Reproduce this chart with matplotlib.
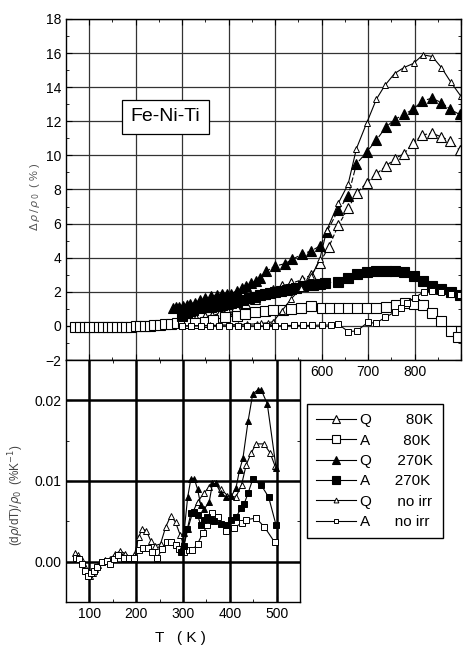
import matplotlib
matplotlib.use("Agg")
import matplotlib.pyplot as plt
from matplotlib.ticker import MultipleLocator
from matplotlib.lines import Line2D

plt.rcParams['font.family'] = ['Liberation Sans', 'DejaVu Sans']
plt.rcParams['mathtext.fontset'] = 'dejavusans'

# ---- top panel: delta rho / rho0 (%) ----
T_q80 = [300, 330, 350, 365, 381, 396, 416, 435, 456, 478, 496, 514, 535, 557, 578, 596, 616,
         636, 657, 676, 697, 717, 738, 757, 777, 797, 817, 837, 857, 877, 897]
q80 = [0.3, 0.4, 0.5, 0.6, 0.74, 0.9, 1.1, 1.35, 1.6, 1.9, 2.1, 2.35, 2.5, 2.7, 3.0, 3.7, 4.65,
       5.9, 6.9, 7.8, 8.4, 8.9, 9.35, 9.8, 10.1, 10.7, 11.2, 11.3, 11.1, 10.85, 10.3]

T_a80 = [70, 80, 90, 100, 110, 120, 130, 140, 150, 160, 170, 180, 190, 200, 210, 220, 230, 240,
         252, 264, 276, 288, 302, 315, 327, 349, 367, 392, 417, 435, 456, 478, 496, 517, 535, 556,
         578, 600, 618, 637, 657, 677, 697, 718, 738, 761, 779, 798, 818, 838, 858, 878, 894]
a80 = [-0.05, -0.05, -0.06, -0.05, -0.05, -0.06, -0.05, -0.05, -0.06, -0.05, -0.05, -0.04, -0.04,
       -0.03, -0.02, 0.0, 0.02, 0.04, 0.06, 0.09, 0.12, 0.15, 0.2, 0.18, 0.16, 0.25, 0.35, 0.51,
       0.59, 0.7, 0.8, 0.9, 0.94, 0.94, 0.98, 1.07, 1.15, 1.04, 1.04, 1.05, 1.05, 1.04, 1.05, 1.05,
       1.1, 1.23, 1.33, 1.27, 1.23, 0.78, 0.29, -0.29, -0.63]

T_q270 = [280, 287, 294, 301, 310, 317, 327, 338, 350, 363, 375, 385, 396, 406, 417, 428, 438,
          449, 458, 467, 481, 499, 521, 537, 557, 578, 597, 611, 636, 657, 675, 697, 718, 738,
          757, 777, 797, 817, 837, 858, 877, 897]
q270 = [1.04, 1.08, 1.12, 1.18, 1.23, 1.3, 1.37, 1.5, 1.62, 1.76, 1.82, 1.86, 1.88, 1.9, 2.05,
        2.2, 2.35, 2.5, 2.65, 2.8, 3.2, 3.5, 3.65, 3.9, 4.2, 4.4, 4.7, 5.5, 6.8, 7.6, 9.5, 10.2,
        10.9, 11.65, 12.1, 12.4, 12.7, 13.2, 13.35, 13.1, 12.7, 12.4]

T_a270 = [300, 310, 317, 324, 338, 350, 363, 375, 385, 396, 406, 418, 431, 443, 456, 467, 478,
          489, 499, 512, 525, 535, 546, 560, 582, 596, 607, 636, 657, 676, 697, 718, 738, 757,
          777, 799, 818, 838, 858, 878, 897]
a270 = [0.6, 0.75, 0.85, 0.94, 1.04, 1.08, 1.13, 1.18, 1.23, 1.28, 1.33, 1.42, 1.52, 1.62, 1.72,
        1.8, 1.86, 1.92, 1.98, 2.04, 2.1, 2.18, 2.25, 2.32, 2.4, 2.45, 2.5, 2.6, 2.8, 3.05, 3.15,
        3.2, 3.2, 3.2, 3.15, 2.9, 2.65, 2.35, 2.17, 1.98, 1.8]

T_qn = [300, 320, 340, 360, 380, 400, 420, 440, 460, 470, 484, 496, 515, 535, 555, 578, 596,
        611, 636, 657, 675, 697, 718, 736, 757, 777, 798, 818, 838, 858, 878, 899]
qn = [0.0, 0.0, 0.02, 0.03, 0.05, 0.06, 0.08, 0.1, 0.12, 0.15, 0.18, 0.25, 0.9, 1.6, 2.2, 2.9,
      3.9, 5.6, 7.2, 8.3, 10.4, 11.9, 13.3, 14.1, 14.8, 15.15, 15.4, 15.9, 15.8, 15.15, 14.3, 13.5]

T_an = [300, 320, 340, 360, 380, 400, 420, 440, 460, 480, 500, 520, 540, 560, 580, 600, 620,
        636, 657, 676, 699, 717, 737, 757, 770, 784, 800, 820, 838, 858, 878, 897]
an = [0.0, 0.0, 0.0, 0.0, 0.0, 0.0, 0.0, 0.0, 0.0, 0.0, 0.0, 0.02, 0.03, 0.03, 0.03, 0.05, 0.05,
      0.1, -0.33, -0.3, 0.2, 0.16, 0.5, 0.8, 1.05, 1.33, 1.65, 2.0, 2.05, 2.0, 1.88, 1.8]

# ---- bottom panel: (d rho/dT)/rho0 ----
Tb_q80 = [70, 76, 85, 91, 97, 102, 108, 112, 118, 123, 134, 145, 155, 166, 177, 188, 196, 205,
          213, 222, 231, 241, 252, 263, 274, 284, 294, 302, 310, 320, 331, 345, 356, 367, 381,
          395, 413, 425, 435, 446, 456, 473, 486, 497]
b_q80 = [0.0011, 0.0008, 0.0002, -0.0006, -0.0012, -0.0018, -0.0014, -0.0009, -0.0004, -0.0001,
         0.0002, 0.0003, 0.001, 0.0013, 0.001, 0.0005, 0.0008, 0.003, 0.0041, 0.0038, 0.0026,
         0.002, 0.0022, 0.0043, 0.0057, 0.0049, 0.0033, 0.002, 0.004, 0.006, 0.0074, 0.0085,
         0.0093, 0.0097, 0.009, 0.0082, 0.008, 0.0095, 0.012, 0.0135, 0.0146, 0.0146, 0.0135,
         0.0118]

Tb_a80 = [72, 78, 84, 91, 98, 103, 109, 116, 127, 137, 145, 152, 162, 173, 184, 195, 205, 215,
          225, 234, 245, 256, 265, 275, 284, 291, 302, 313, 320, 331, 342, 352, 363, 374, 392,
          410, 425, 435, 456, 474, 496]
b_a80 = [0.0005, 0.0003, -0.0003, -0.0011, -0.0018, -0.0014, -0.0011, -0.0007, -0.0001, 0.0001,
         -0.0003, 0.0003, 0.0008, 0.0005, 0.0004, 0.0005, 0.0014, 0.0017, 0.0017, 0.0012, 0.0005,
         0.0016, 0.0025, 0.0025, 0.0021, 0.0016, 0.0012, 0.0014, 0.0014, 0.0022, 0.0035, 0.0045,
         0.006, 0.0055, 0.0038, 0.0042, 0.0048, 0.0052, 0.0054, 0.0043, 0.0024]

Tb_q270 = [295, 302, 310, 317, 324, 331, 338, 345, 356, 363, 370, 381, 392, 403, 413, 421, 428,
           439, 449, 460, 467, 480, 499]
b_q270 = [0.0015, 0.0035, 0.008, 0.0103, 0.0103, 0.009, 0.007, 0.0065, 0.0074, 0.0097, 0.0097,
          0.0085, 0.008, 0.0081, 0.0091, 0.0114, 0.0128, 0.0174, 0.0208, 0.0213, 0.0213, 0.0196,
          0.0116]

Tb_a270 = [295, 302, 309, 317, 324, 331, 338, 345, 352, 360, 367, 381, 392, 403, 413, 424, 431,
           439, 449, 467, 483, 499]
b_a270 = [0.0012, 0.002, 0.004, 0.006, 0.0062, 0.0058, 0.0045, 0.0052, 0.0055, 0.0052, 0.0051,
          0.0047, 0.0046, 0.0052, 0.0055, 0.0066, 0.0072, 0.0085, 0.0102, 0.0095, 0.008, 0.0045]

legend_labels = ['Q        80K', 'A        80K', 'Q      270K', 'A      270K',
                 'Q      no irr', 'A      no irr']

W, H = 463, 646
fig = plt.figure(figsize=(W / 100, H / 100), dpi=100)

ax1 = fig.add_axes([66 / W, 1 - 360 / H, 395 / W, 341 / H])
ax2 = fig.add_axes([66 / W, 1 - 602 / H, 234 / W, 242 / H])

lw = 0.8
big = dict(mfc='white', mec='black', ms=7, mew=0.8)
fill = dict(mfc='black', mec='black', ms=7, mew=0.8)
small = dict(mfc='white', mec='black', ms=4, mew=0.7)

ax1.plot(T_q80, q80, 'k^', ls=(0, (4, 2)), lw=lw, **big)
ax1.plot(T_a80, a80, 'ks', ls=(0, (2, 2)), lw=lw, **big)
ax1.plot(T_q270, q270, 'k^', ls=(0, (5, 2)), lw=lw, **fill)
ax1.plot(T_a270, a270, 'ks', ls=(0, (2, 2)), lw=lw, **fill)
ax1.plot(T_qn, qn, 'k^', ls='-', lw=lw, **small)
ax1.plot(T_an, an, 'ks', ls='-', lw=lw, **small)

ax1.set_xlim(50, 900)
ax1.set_ylim(-2, 18)
ax1.xaxis.set_minor_locator(MultipleLocator(50))
ax1.yaxis.set_major_locator(MultipleLocator(2))
ax1.yaxis.set_minor_locator(MultipleLocator(1))
ax1.set_xticks(range(100, 901, 100))
ax1.set_xticklabels(['' if t not in (600, 700, 800) else str(t) for t in range(100, 901, 100)])
ax1.grid(True, which='major', color='#333333', lw=0.9)
ax1.tick_params(which='both', direction='in', top=True, right=True, labelsize=10)
ax1.tick_params(which='major', length=4)
ax1.tick_params(which='minor', length=2)
ax1.set_ylabel(r'$\Delta\,\rho\,/\,\rho_{\,0}$  ( % )', fontsize=8, color='#555555')
ax1.yaxis.set_label_coords(-0.062, 0.48)
ax1.text(0.2525, 0.713, 'Fe-Ni-Ti', transform=ax1.transAxes, fontsize=14,
         ha='center', va='center',
         bbox=dict(boxstyle='square,pad=0.45', fc='white', ec='black', lw=0.9))

ax2.plot(Tb_q80, b_q80, 'k^', ls='-', lw=lw, mfc='white', mec='black', ms=4.5, mew=0.7)
ax2.plot(Tb_a80, b_a80, 'ks', ls='-', lw=lw, mfc='white', mec='black', ms=4, mew=0.7)
ax2.plot(Tb_q270, b_q270, 'k^', ls='-', lw=lw, mfc='black', mec='black', ms=4.5, mew=0.7)
ax2.plot(Tb_a270, b_a270, 'ks', ls='-', lw=lw, mfc='black', mec='black', ms=4, mew=0.7)

ax2.set_xlim(50, 550)
ax2.set_ylim(-0.005, 0.025)
ax2.set_xticks([100, 200, 300, 400, 500])
ax2.xaxis.set_minor_locator(MultipleLocator(50))
ax2.set_yticks([0.0, 0.01, 0.02])
ax2.set_yticklabels(['0.00', '0.01', '0.02'])
ax2.yaxis.set_minor_locator(MultipleLocator(0.005))
ax2.grid(True, which='major', color='black', lw=1.8)
ax2.tick_params(which='both', direction='in', top=True, right=True, labelsize=10)
ax2.tick_params(which='major', length=4)
ax2.tick_params(which='minor', length=2)
ax2.set_ylabel(r'(d$\rho$/dT)/$\rho_0$  (%K$^{-1}$)', fontsize=8.5, color='#444444')
ax2.yaxis.set_label_coords(-0.17, 0.44)
ax2.set_xlabel('T   ( K )', fontsize=11)
ax2.xaxis.set_label_coords(0.49, -0.12)
for s in ax2.spines.values():
    s.set_linewidth(1.0)
for s in ax1.spines.values():
    s.set_linewidth(1.0)

# legend handles with solid lines, as in the original
styles = [big, big, fill, fill, small, small]
markers = ['^', 's', '^', 's', '^', 's']
handles = []
for m, st, lab in zip(markers, styles, legend_labels):
    st = dict(st)
    st['ms'] = 5.5 if st['ms'] > 4 else 3.5
    handles.append(Line2D([], [], color='black', lw=lw, marker=m, label=lab, **st))

fig.legend(handles=handles, loc='upper left',
           bbox_to_anchor=(307 / W, 1 - 404 / H), borderaxespad=0, fontsize=11,
           frameon=True, fancybox=False, edgecolor='black', framealpha=1, handlelength=2.6,
           labelspacing=0.42, borderpad=0.6, handletextpad=0.3)

fig.savefig('out.png', dpi=100)
